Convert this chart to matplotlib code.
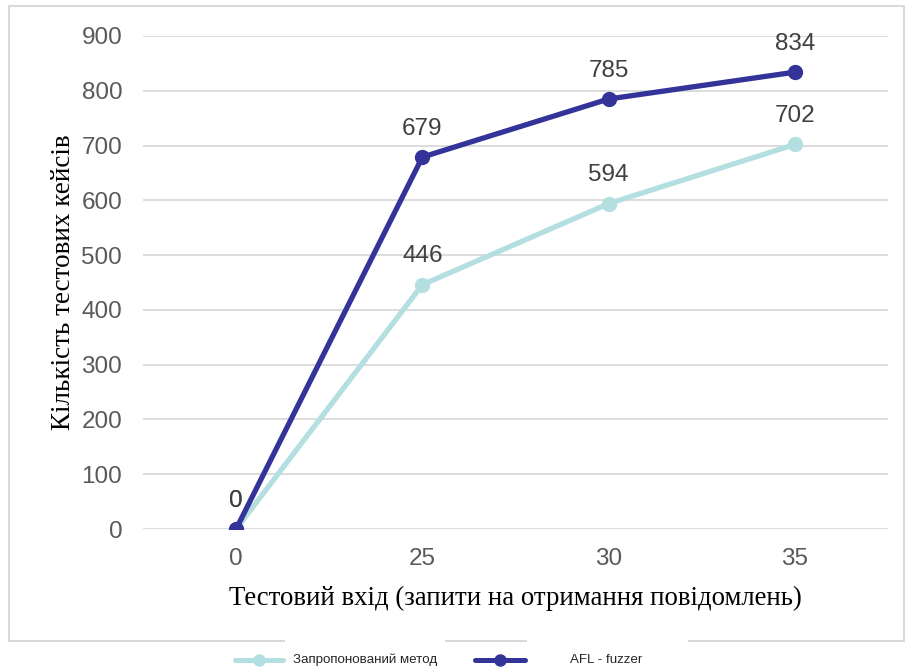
import matplotlib
matplotlib.use("Agg")
import matplotlib.pyplot as plt
from matplotlib.patches import Rectangle
from matplotlib.lines import Line2D

categories = ["0", "25", "30", "35"]
proposed = [0, 446, 594, 702]
afl = [0, 679, 785, 834]
yticks = [0, 100, 200, 300, 400, 500, 600, 700, 800, 900]
legend_labels = ["Запропонований метод", "AFL - fuzzer"]

light = "#b4dfe1"
dark = "#333399"
sans = ["Liberation Sans", "DejaVu Sans"]
serif = ["Liberation Serif", "DejaVu Serif"]

W, H = 906, 668
fig = plt.figure(figsize=(W/100, H/100), dpi=100)
ax = fig.add_axes([143/W, 1-529/H, (888-143)/W, (529-36)/H])

x = list(range(len(categories)))
ax.plot(x, proposed, color=light, lw=3.8, marker="o", ms=10, solid_capstyle="round", zorder=3)
ax.plot(x, afl, color=dark, lw=3.8, marker="o", ms=10, solid_capstyle="round", zorder=4)

for series in (proposed, afl):
    for xi, v in zip(x, series):
        ax.annotate(str(v), (xi, v), xytext=(0, 20.5), textcoords="offset points",
                    ha="center", va="center", fontsize=17.5, color="#404040",
                    family=sans)

ax.set_xlim(-0.5, 3.5)
ax.set_ylim(0, 900)
ax.set_yticks(yticks)
ax.set_xticks(x)
ax.set_xticklabels(categories)
ax.grid(axis="y", color="#d9d9d9", lw=1.3)
ax.set_axisbelow(True)
for s in ax.spines.values():
    s.set_visible(False)
ax.tick_params(length=0, labelsize=17.5, labelcolor="#595959")
for lab in ax.get_xticklabels() + ax.get_yticklabels():
    lab.set_family(sans)
ax.tick_params(axis="x", pad=14)
ax.tick_params(axis="y", pad=15)

ax.set_xlabel("Тестовий вхід (запити на отримання повідомлень)", fontsize=19.3,
              family=serif, color="black", labelpad=11)
ax.set_ylabel("Кількість тестових кейсів", fontsize=19.5,
              family=serif, color="black", labelpad=4)

# outer frame
fig.patches.append(Rectangle((9/W, 1-641/H), (904-9)/W, (641-6)/H,
                             transform=fig.transFigure, fill=False,
                             edgecolor="#d9d9d9", lw=1.5, zorder=0))
# white legend boxes overlapping frame
for x0, x1 in [(285, 445), (527, 688)]:
    fig.patches.append(Rectangle((x0/W, 0), (x1-x0)/W, (H-627)/H,
                                 transform=fig.transFigure, facecolor="white",
                                 edgecolor="none", zorder=1))

# legend entries
ly = 1 - 660/H
for (h0, h1, tx), col, lab in zip([(235, 283, 293), (475, 525, 570)], [light, dark], legend_labels):
    fig.add_artist(Line2D([h0/W, h1/W], [ly, ly], transform=fig.transFigure,
                          color=col, lw=3.6, solid_capstyle="round", zorder=2))
    fig.add_artist(Line2D([(h0+h1)/2/W], [ly], transform=fig.transFigure,
                          color=col, marker="o", ms=8, lw=0, zorder=3))
    fig.text(tx/W, ly, lab, ha="left", va="center", fontsize=9.6, family=sans,
             color="#262626", zorder=3)

fig.savefig("out.png", dpi=100)
